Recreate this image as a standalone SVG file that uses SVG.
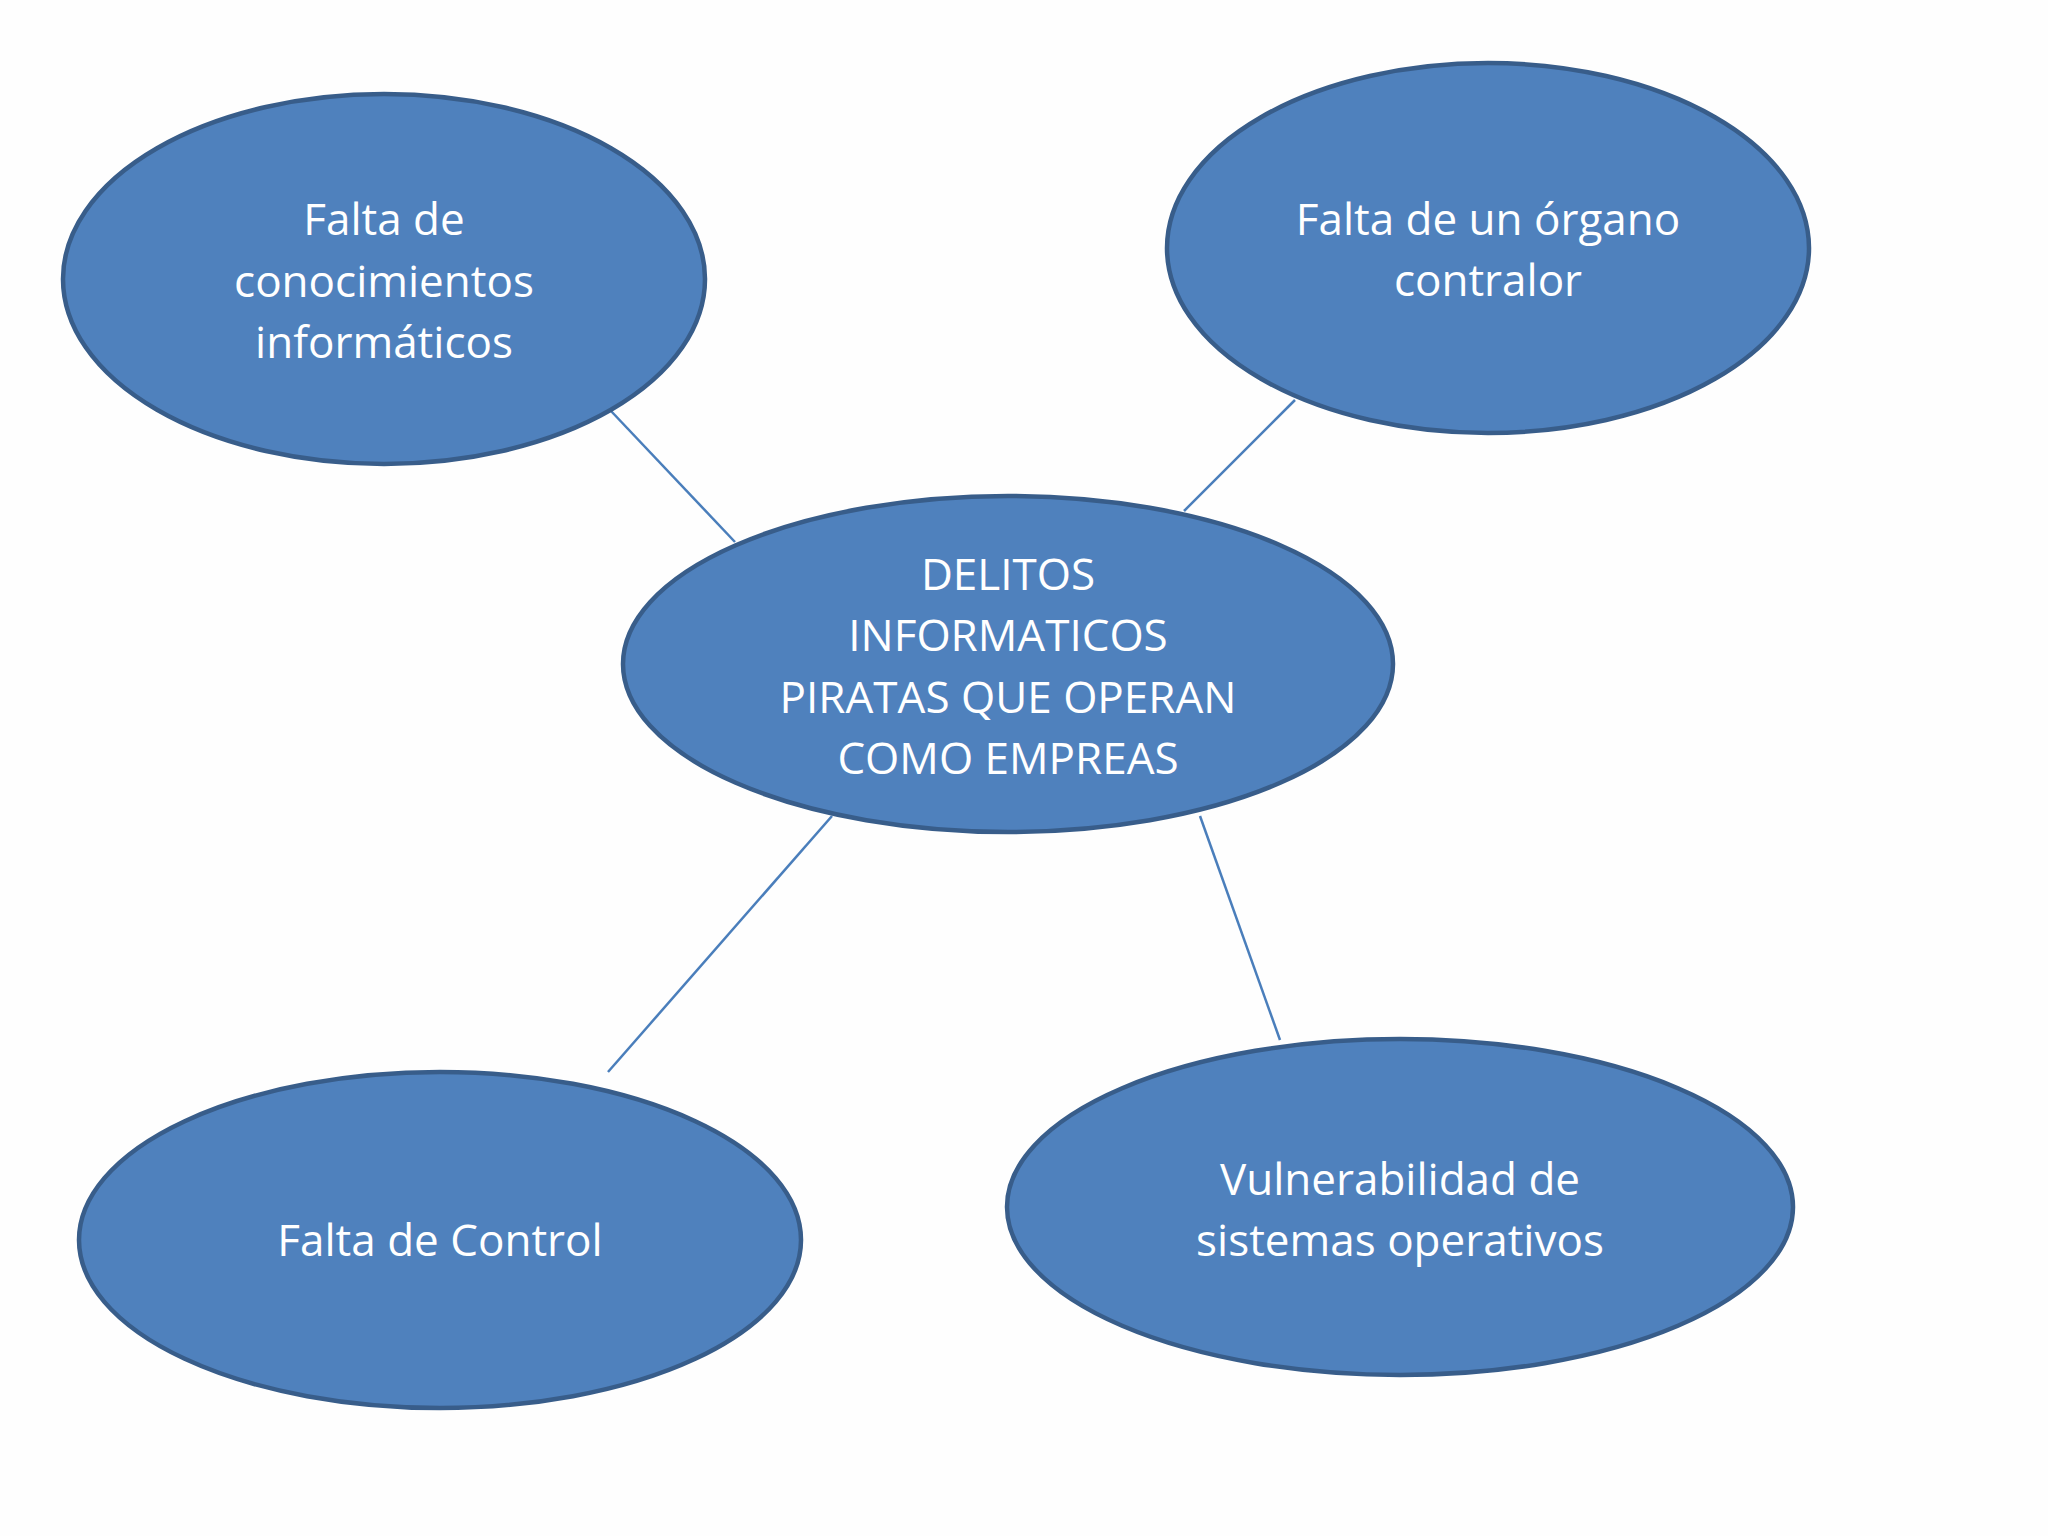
<svg xmlns="http://www.w3.org/2000/svg" width="2048" height="1536" viewBox="0 0 2048 1536">
<style>
.node{fill:#4F81BD;stroke:#385D8A;stroke-width:4.5}
.lbl{font-family:"Open Sans","Noto Sans","Liberation Sans",sans-serif;font-size:44px;fill:#FFFFFF;text-anchor:middle}
.conn{stroke:#4A7EBB;stroke-width:2.5;fill:none}
</style>
<rect width="2048" height="1536" fill="#FEFEFE"/>
<g id="connectors">
<line class="conn" x1="611" y1="411" x2="735" y2="542"/>
<line class="conn" x1="1295" y1="400" x2="1184" y2="511"/>
<line class="conn" x1="832" y1="816" x2="608" y2="1072"/>
<line class="conn" x1="1200" y1="816" x2="1280" y2="1040"/>
</g>
<g id="node-conocimientos">
<ellipse class="node" cx="384" cy="279" rx="321" ry="185"/>
<text class="lbl" x="384" y="235">Falta de</text>
<text class="lbl" x="384" y="297">conocimientos</text>
<text class="lbl" x="384" y="358">informáticos</text>
</g>
<g id="node-organo">
<ellipse class="node" cx="1488" cy="248" rx="321" ry="185"/>
<text class="lbl" x="1488" y="235">Falta de un órgano</text>
<text class="lbl" x="1488" y="296">contralor</text>
</g>
<g id="node-delitos">
<ellipse class="node" cx="1008" cy="664" rx="385" ry="168"/>
<text class="lbl" x="1008" y="590">DELITOS</text>
<text class="lbl" x="1008" y="651">INFORMATICOS</text>
<text class="lbl" x="1008" y="713">PIRATAS QUE OPERAN</text>
<text class="lbl" x="1008" y="774">COMO EMPREAS</text>
</g>
<g id="node-control">
<ellipse class="node" cx="440" cy="1240" rx="361" ry="168"/>
<text class="lbl" x="440" y="1256">Falta de Control</text>
</g>
<g id="node-vulnerabilidad">
<ellipse class="node" cx="1400" cy="1207" rx="393" ry="168"/>
<text class="lbl" x="1400" y="1195">Vulnerabilidad de</text>
<text class="lbl" x="1400" y="1256">sistemas operativos</text>
</g>
</svg>
